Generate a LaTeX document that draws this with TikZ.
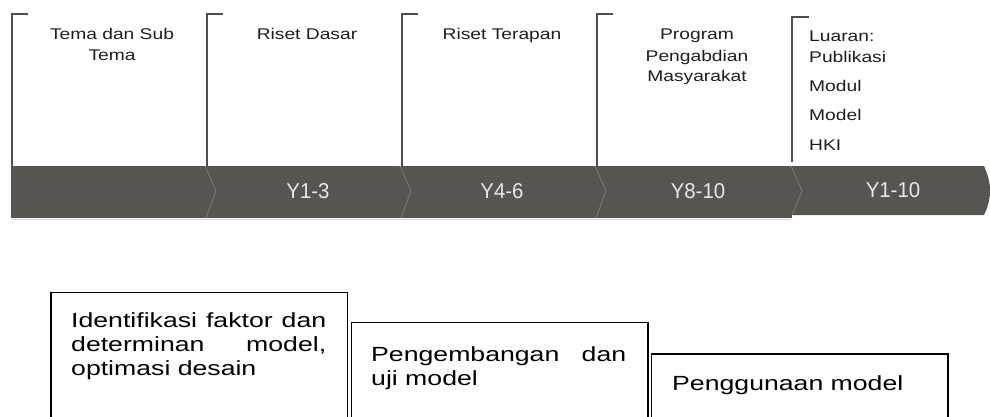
\documentclass[tikz,border=0pt]{standalone}
\usepackage{fontspec}
\setmainfont{Liberation Sans}
\newfontfamily\topfont[FakeStretch=1.24]{Liberation Sans}
\newfontfamily\boxfont[FakeStretch=1.3]{Liberation Sans}
\newfontfamily\yfont[FakeStretch=0.95]{Liberation Sans}
\definecolor{band}{RGB}{88,85,80}
\definecolor{sep}{RGB}{128,124,118}
\definecolor{brk}{RGB}{78,78,78}
\definecolor{ttxt}{RGB}{30,30,30}
\definecolor{ylab}{RGB}{232,232,230}
\begin{document}
\begin{tikzpicture}[x=1pt,y=-1pt,
  bracket/.style={draw=brk,line width=1.8pt},
  toplbl/.style={font=\topfont\fontsize{15.5}{18}\selectfont,text=ttxt,inner sep=0pt,anchor=base},
  toplft/.style={toplbl,anchor=base west},
  ylbl/.style={font=\yfont\fontsize{21.5}{24}\selectfont,text=ylab,inner sep=0pt,anchor=base},
  sepline/.style={draw=sep,line width=0.8pt},
  bx/.style={draw=black,line width=1.6pt,inner sep=0pt,anchor=north west,minimum width=296.7pt,minimum height=160pt},
  bxtxt/.style={font=\boxfont\fontsize{20.5}{23.5}\selectfont,inner sep=0pt,anchor=base west}
]
\useasboundingbox (0,0) rectangle (990,417);
\clip (0,0) rectangle (990,417);

% band
\fill[band] (11,166) rectangle (792,218);
\draw[gray!30,line width=1pt] (11,219) -- (790,219);
\fill[band] (790,166) -- (984,166) .. controls (988,175) and (990,183) .. (990,191)
  .. controls (990,199) and (988,207) .. (984,215) -- (790,215) -- cycle;
\foreach \b in {207,402,597}{
  \draw[sepline] (\b-2,166) -- (\b+9,191) -- (\b-1,218);
}
\draw[sepline] (791,166) -- (802,191) -- (792,215);

% brackets
\foreach \b in {12,207,402,597}{
  \draw[bracket] (\b+16,14) -- (\b,14) -- (\b,166);
}
\draw[bracket] (809,17) -- (792,17) -- (792,162);

% top labels
\node[toplbl] (t1a) at (112,40) {Tema dan Sub};
\node[toplbl] (t1b) at (112,61) {Tema};
\node[toplbl] (t2) at (307,40) {Riset Dasar};
\node[toplbl] (t3) at (502,40) {Riset Terapan};
\node[toplbl] (t4a) at (697,40) {Program};
\node[toplbl] (t4b) at (697,62) {Pengabdian};
\node[toplbl] (t4c) at (697,82) {Masyarakat};
\node[toplft] (t5a) at (809,42) {Luaran:};
\node[toplft] (t5b) at (809,63) {Publikasi};
\node[toplft] (t5c) at (809,92) {Modul};
\node[toplft] (t5d) at (809,121) {Model};
\node[toplft] (t5e) at (809,150) {HKI};

% year labels
\node[ylbl] (y1) at (308,198.5) {Y1-3};
\node[ylbl] (y2) at (502,198.5) {Y4-6};
\node[ylbl] (y3) at (698,198.5) {Y8-10};
\node[ylbl] (y4) at (893,197.5) {Y1-10};

% bottom boxes
\node[bx] (b1) at (50,291.7) {};
\node[bx] (b2) at (350.7,321.7) {};
\node[bx] (b3) at (650.7,353) {};

\node[bxtxt] (b1l1) at (71,327) {\hbox to 255pt{Identifikasi\hfill faktor\hfill dan}};
\node[bxtxt] (b1l2) at (71,351) {\hbox to 255pt{determinan\hfill model,}};
\node[bxtxt] (b1l3) at (71,375) {optimasi desain};
\node[bxtxt] (b2l1) at (371,361) {\hbox to 255pt{Pengembangan\hfill dan}};
\node[bxtxt] (b2l2) at (371,385) {uji model};
\node[bxtxt] (b3l1) at (672,390) {Penggunaan model};
\end{tikzpicture}
\end{document}
